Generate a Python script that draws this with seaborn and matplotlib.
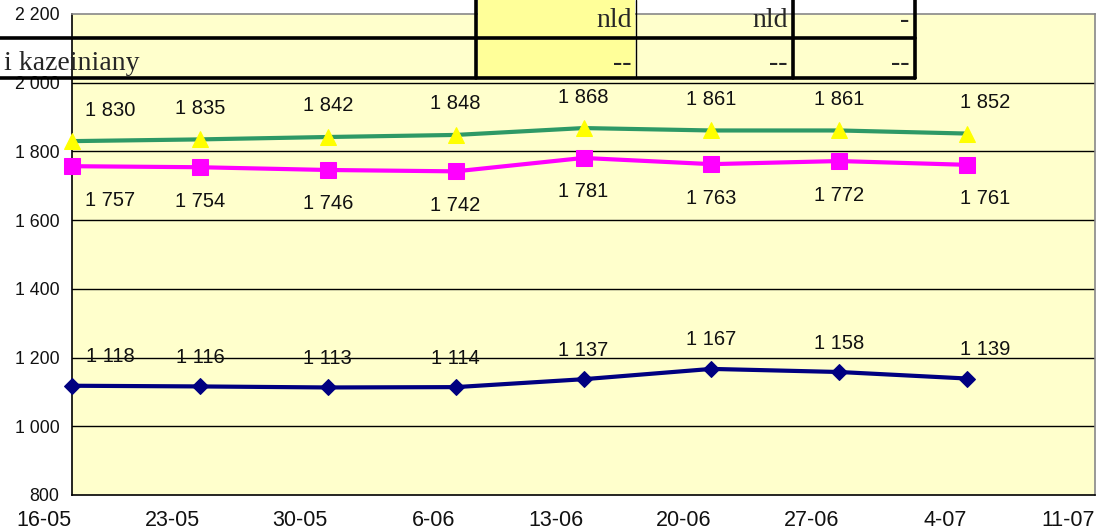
import matplotlib
matplotlib.use("Agg")
import matplotlib.pyplot as plt
import seaborn as sns
import numpy as np
from matplotlib.patches import Rectangle
from matplotlib.lines import Line2D

dates = ["16-05", "23-05", "30-05", "6-06", "13-06", "20-06", "27-06", "4-07", "11-07"]
green_vals = [1830, 1835, 1842, 1848, 1868, 1861, 1861, 1852]
magenta_vals = [1757, 1754, 1746, 1742, 1781, 1763, 1772, 1761]
navy_vals = [1118, 1116, 1113, 1114, 1137, 1167, 1158, 1139]
y_ticks = [800, 1000, 1200, 1400, 1600, 1800, 2000, 2200]
table_row1 = ["nld", "nld", "-"]
table_row2 = ["--", "--", "--"]
table_label = "i kazeiniany"

sns.set_theme(style="white")
plt.rcParams['font.family'] = ['Liberation Sans', 'DejaVu Sans']

W, H = 1100, 531
fig = plt.figure(figsize=(W / 100, H / 100), dpi=100)
ax = fig.add_axes([72 / W, 1 - 495 / H, (1095 - 72) / W, (495 - 14) / H])
ax.set_facecolor("#FFFFCC")

def fmt(v):
    return f"{v:,}".replace(",", " ")

PX = 0.72  # points per pixel at dpi 100
x = np.arange(len(green_vals))
series = [
    (green_vals, "#2E9966", "^", "#FFFF00", 11.5, -31),
    (magenta_vals, "#FF00FF", "s", "#FF00FF", 11, 34),
    (navy_vals, "#000080", "D", "#000080", 8.5, -29),
]
for vals, col, mk, mfc, ms, off in series:
    sns.lineplot(x=x, y=vals, ax=ax, color=col, linewidth=3.0, marker=mk,
                 markerfacecolor=mfc, markeredgecolor=mfc, markersize=ms,
                 legend=False, clip_on=False, zorder=3)
    for i, v in enumerate(vals):
        dx = 38 if i == 0 else (18 if i == len(vals) - 1 else 0)
        ax.annotate(fmt(v), (i, v), xytext=(dx * PX, -off * PX), textcoords="offset points",
                    ha="center", va="center", fontsize=14.5, color="#111111", zorder=4)

ax.set_xlim(0, len(dates) - 1)
ax.set_ylim(800, 2200)
ax.set_xticks(range(len(dates)))
ax.set_xticklabels(dates, fontsize=15.5, ha="right", color="#111111")
for lbl in ax.get_xticklabels():
    lbl.set_horizontalalignment("right")
ax.set_yticks(y_ticks)
ax.set_yticklabels([fmt(v) for v in y_ticks], fontsize=12.8, color="#111111")
for y in y_ticks[1:-1]:
    ax.axhline(y, color="black", linewidth=1.0, zorder=0.5)
ax.tick_params(axis="x", direction="out", length=7, width=1, color="black", pad=4)
ax.tick_params(axis="y", direction="out", length=5, width=1, color="black", pad=4)
ax.spines["left"].set_color("black")
ax.spines["bottom"].set_color("black")
ax.spines["top"].set_color("#888888")
ax.spines["right"].set_color("#888888")
for s in ax.spines.values():
    s.set_linewidth(1.2)
ax.set_xlabel("")
ax.set_ylabel("")

# overlaid table fragment (figure pixel coordinates)
def fx(px):
    return px / W
def fy(py):
    return 1 - py / H

fig.patches.append(Rectangle((fx(478), fy(78)), fx(635) - fx(478), fy(0) - fy(78),
                             transform=fig.transFigure, facecolor="#FFFF99",
                             edgecolor="none", zorder=5))
for py in (38, 78):
    fig.lines.append(Line2D([0, fx(915)], [fy(py), fy(py)], transform=fig.transFigure,
                            color="black", linewidth=2.6, zorder=6))
for px, lw in ((476, 2.6), (636, 1.0), (793, 2.6), (915, 2.6)):
    fig.lines.append(Line2D([fx(px), fx(px)], [fy(0), fy(78)], transform=fig.transFigure,
                            color="black", linewidth=lw, zorder=6))
cell_right = [632, 788, 909]
for r, t in zip(cell_right, table_row1):
    fig.text(fx(r), fy(27), t, ha="right", va="baseline", fontsize=20,
             family="Liberation Serif", zorder=7)
for r, t in zip(cell_right, table_row2):
    fig.text(fx(r), fy(70), t, ha="right", va="baseline", fontsize=20,
             family="Liberation Serif", zorder=7)
fig.text(fx(4), fy(70), table_label, ha="left", va="baseline", fontsize=20,
         family="Liberation Serif", zorder=7)

fig.savefig("out.png", dpi=100, facecolor="white")
